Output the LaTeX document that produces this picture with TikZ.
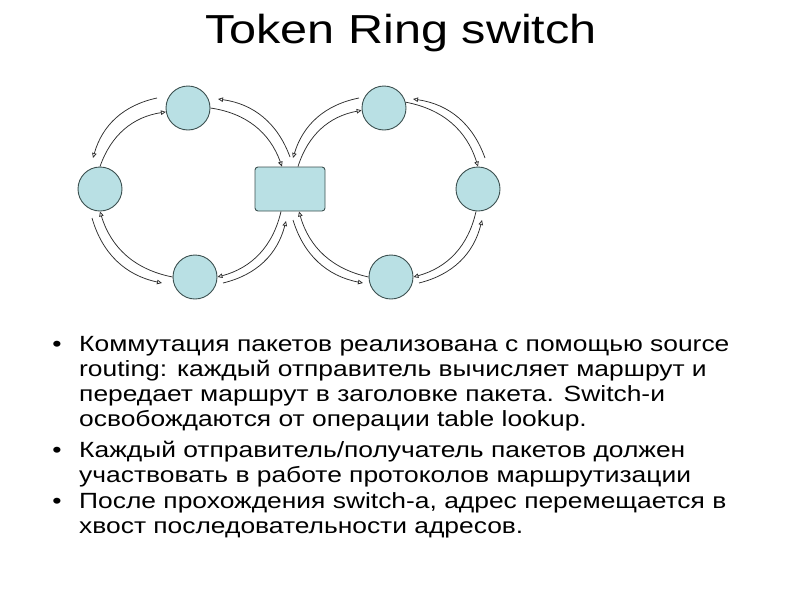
\documentclass[tikz,border=0pt]{standalone}
\usepackage{fontspec}
\setmainfont{Liberation Sans}[FakeStretch=1.2]
\usetikzlibrary{arrows.meta}
\definecolor{nodefill}{RGB}{185,224,228}
\definecolor{nodeline}{RGB}{60,80,80}
\definecolor{arcline}{RGB}{45,45,45}
\tikzset{
  ringnode/.style={circle,fill=nodefill,draw=nodeline,line width=0.9pt,minimum size=44pt,inner sep=0pt},
  switchnode/.style={rectangle,rounded corners=3pt,fill=nodefill,draw=nodeline,line width=0.9pt,minimum width=70pt,minimum height=44pt,inner sep=0pt},
  flow/.style={draw=arcline,line width=0.75pt,-{Triangle[open,length=5pt,width=4.5pt]}},
  cw/.style={flow,bend left=31},
  ccw/.style={flow,bend right=31},
  bodyline/.style={anchor=base west,inner sep=0pt,font=\fontsize{22pt}{25pt}\selectfont},
  bulletmark/.style={anchor=base,inner sep=0pt,font=\fontsize{22pt}{25pt}\selectfont},
}
\begin{document}
\begin{tikzpicture}[x=1pt,y=1pt]
\useasboundingbox (0,0) rectangle (800,-600);
% title
\node[anchor=base,inner sep=0pt,font=\fontsize{40.5pt}{45pt}\selectfont] (title) at (401,-43) {Token Ring switch};
% nodes
\node[ringnode] (TL) at (188,-108) {};
\node[ringnode] (LL) at (100,-189) {};
\node[ringnode] (LB) at (195,-277) {};
\node[switchnode] (SW) at (290,-189) {};
\node[ringnode] (RT) at (384,-108) {};
\node[ringnode] (RR) at (478,-189) {};
\node[ringnode] (RB) at (391,-277) {};
% free ends of outer arcs
\coordinate (a1s) at (290,-157); \coordinate (a1e) at (218,-99);
\coordinate (a2s) at (157,-98);  \coordinate (a2e) at (93,-158);
\coordinate (a3s) at (92,-218);  \coordinate (a3e) at (162,-283);
\coordinate (a4s) at (223,-283); \coordinate (a4e) at (286,-221);
\coordinate (b1s) at (485,-158); \coordinate (b1e) at (413,-99);
\coordinate (b2s) at (419,-283); \coordinate (b2e) at (482,-220);
\coordinate (b3s) at (293,-220); \coordinate (b3e) at (363,-283);
\coordinate (b4s) at (359,-98);  \coordinate (b4e) at (293,-158);
% left ring, inner arcs
\draw[cw] (TL.east) to ([xshift=-8pt]SW.north);
\draw[cw] (LL.north) to (TL.190);
\draw[cw] (LB.west) to (LL.south);
\draw[cw] ([xshift=-9pt]SW.south) to (LB.east);
% left ring, outer arcs
\draw[ccw] (a1s) to (a1e);
\draw[ccw] (a2s) to (a2e);
\draw[ccw] (a3s) to (a3e);
\draw[ccw] (a4s) to (a4e);
% right ring, inner arcs
\draw[cw] (RT.15) to (RR.north);
\draw[cw] (RR.265) to (RB.east);
\draw[cw] (RB.west) to ([xshift=9pt]SW.south);
\draw[cw] ([xshift=8pt]SW.north) to (RT.186);
% right ring, outer arcs
\draw[ccw] (b1s) to (b1e);
\draw[ccw] (b2s) to (b2e);
\draw[ccw] (b3s) to (b3e);
\draw[ccw] (b4s) to (b4e);
% bullets
\node[bulletmark] (m1) at (57,-351) {•};
\node[bulletmark] (m2) at (57,-457) {•};
\node[bulletmark] (m3) at (57,-508) {•};
\node[bodyline] (t1) at (79,-351) {Коммутация пакетов реализована с помощью source};
\node[bodyline] (t2) at (79,-376) {routing: каждый отправитель вычисляет маршрут и};
\node[bodyline] (t3) at (79,-401) {передает маршрут в заголовке пакета. Switch-и};
\node[bodyline] (t4) at (79,-426) {освобождаются от операции table lookup.};
\node[bodyline] (t5) at (79,-457) {Каждый отправитель/получатель пакетов должен};
\node[bodyline] (t6) at (79,-482) {участвовать в работе протоколов маршрутизации};
\node[bodyline] (t7) at (79,-508) {После прохождения switch-а, адрес перемещается в};
\node[bodyline] (t8) at (79,-533) {хвост последовательности адресов.};
\end{tikzpicture}
\end{document}
